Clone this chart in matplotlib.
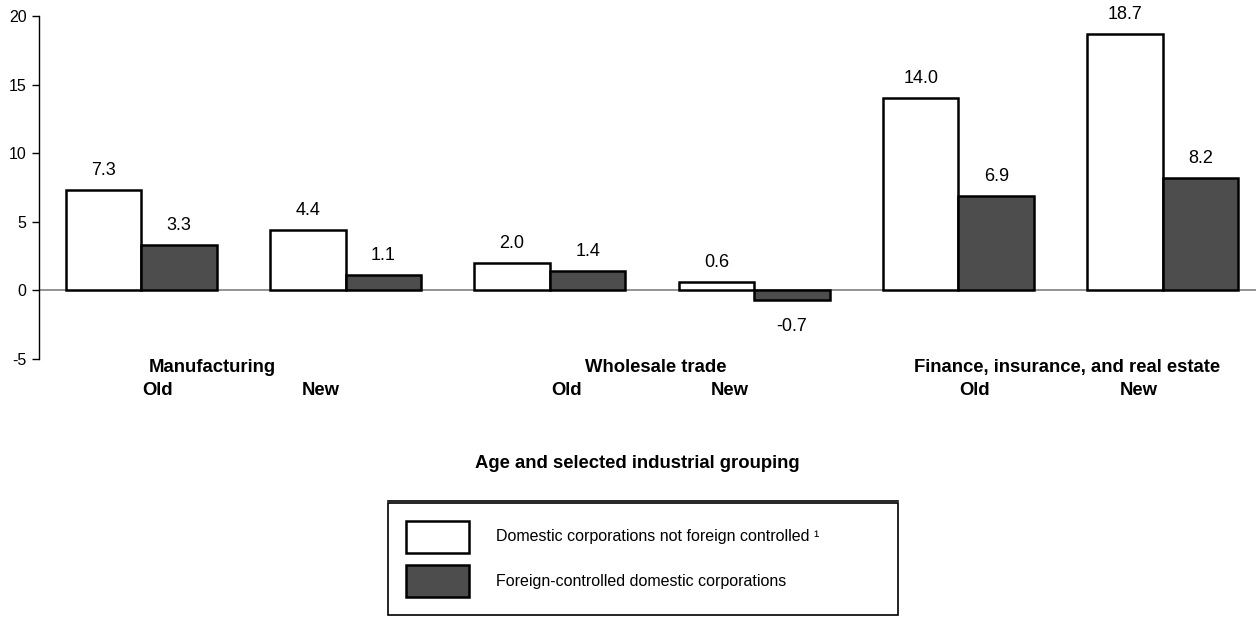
import numpy as np
import matplotlib
matplotlib.use("Agg")
from matplotlib import pyplot as plt
from matplotlib.lines import Line2D

plt.rcParams['font.family'] = ['Liberation Sans', 'DejaVu Sans']
plt.rcParams['axes.unicode_minus'] = False

industries = ["Manufacturing", "Wholesale trade", "Finance, insurance, and real estate"]
ages = ["Old", "New"]
domestic = [7.3, 4.4, 2.0, 0.6, 14.0, 18.7]
foreign = [3.3, 1.1, 1.4, -0.7, 6.9, 8.2]
series_names = ["Domestic corporations not foreign controlled \u00b9",
                "Foreign-controlled domestic corporations"]
yticks = [-5, 0, 5, 10, 15, 20]

W, H = 1256, 618
fig = plt.figure(figsize=(W / 100, H / 100), dpi=100)
ax = fig.add_axes([39 / W, 1 - 359 / H, (1265 - 39) / W, (359 - 16) / H])

x = np.arange(len(domestic))
bw = 0.37
b1 = ax.bar(x - bw / 2, domestic, bw, color="white", edgecolor="black", linewidth=1.8,
            label=series_names[0], zorder=3)
b2 = ax.bar(x + bw / 2, foreign, bw, color="#4d4d4d", edgecolor="black", linewidth=1.8,
            label=series_names[1], zorder=3)

for bars, vals in [(b1, domestic), (b2, foreign)]:
    for r, v in zip(bars, vals):
        cx = r.get_x() + r.get_width() / 2
        if v >= 0:
            ax.annotate(f"{v:.1f}", (cx, v), xytext=(0, 8), textcoords="offset points",
                        ha="center", va="bottom", fontsize=13)
        else:
            ax.annotate(f"{v:.1f}", (cx, v), xytext=(0, -13), textcoords="offset points",
                        ha="center", va="top", fontsize=13)

ax.set_xlim(-0.5, len(domestic) - 0.5)
ax.set_ylim(-5, 20)
ax.set_yticks(yticks)
ax.tick_params(axis="y", labelsize=11.5, length=5, width=1, direction="out", pad=4)
ax.set_xticks([])
for s in ["top", "right", "bottom"]:
    ax.spines[s].set_visible(False)
ax.spines["left"].set_linewidth(1)
ax.axhline(0, color="#808080", linewidth=1.2, zorder=2)

# two-level category labels
trans = ax.get_xaxis_transform()
ind_x = [0.35, 2.52, 4.53]
for xi, name in zip(ind_x, industries):
    ax.text(xi, -0.025, name, transform=trans, ha="center", va="center",
            fontsize=13.3, fontweight="bold")
for gi in range(len(industries)):
    ax.text(2 * gi + 0.08, -0.092, ages[0], transform=trans, ha="center", va="center",
            fontsize=13.3, fontweight="bold")
    ax.text(2 * gi + 0.88, -0.092, ages[1], transform=trans, ha="center", va="center",
            fontsize=13.3, fontweight="bold")

fig.text(637 / W, 1 - 463 / H, "Age and selected industrial grouping",
         ha="center", va="center", fontsize=13.3, fontweight="bold")

leg = fig.legend(handles=[b1, b2], loc="upper left",
                 bbox_to_anchor=(388 / W, 1 - 503 / H, 510 / W, 0), mode="expand",
                 frameon=True, fancybox=False, edgecolor="black", framealpha=1,
                 fontsize=11.5, handlelength=3.95, handleheight=2.7, labelspacing=0.8,
                 handletextpad=1.7, borderpad=1.1, borderaxespad=0)
leg.get_frame().set_linewidth(1.2)
fig.add_artist(Line2D([388 / W, 898 / W], [1 - 501 / H, 1 - 501 / H],
                      color="black", linewidth=1.2, transform=fig.transFigure))

fig.savefig("out.png", dpi=100)
